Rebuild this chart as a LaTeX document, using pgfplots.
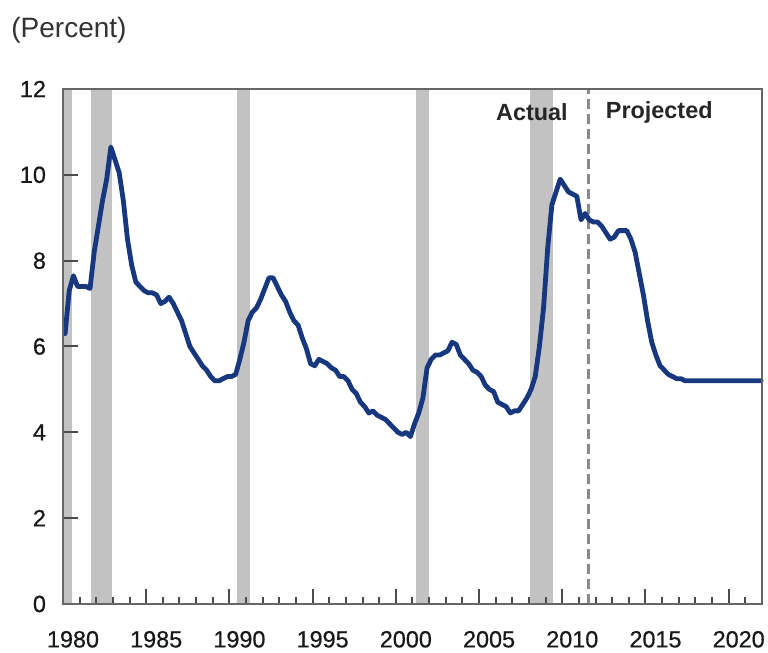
\documentclass[border=0pt]{standalone}
\usepackage{fontspec}
\setmainfont{Liberation Sans}
\newfontfamily\tickfont[FakeBold=0.6]{Liberation Sans}
\usepackage{pgfplots}
\pgfplotsset{compat=1.18}
\usepackage{pgfplotstable}
\definecolor{navy}{HTML}{17377F}
\definecolor{recgray}{HTML}{C2C2C2}
\definecolor{dashgray}{HTML}{8A8A8A}

\pgfplotstableread{
x y
1980.125 6.3
1980.375 7.3
1980.625 7.65
1980.875 7.4
1981.125 7.4
1981.375 7.4
1981.625 7.35
1981.875 8.2
1982.125 8.8
1982.375 9.4
1982.625 9.9
1982.875 10.65
1983.125 10.35
1983.375 10.05
1983.625 9.4
1983.875 8.5
1984.125 7.9
1984.375 7.5
1984.625 7.4
1984.875 7.3
1985.125 7.25
1985.375 7.25
1985.625 7.2
1985.875 7.0
1986.125 7.05
1986.375 7.15
1986.625 7.0
1986.875 6.8
1987.125 6.6
1987.375 6.3
1987.625 6.0
1987.875 5.85
1988.125 5.7
1988.375 5.55
1988.625 5.45
1988.875 5.3
1989.125 5.2
1989.375 5.2
1989.625 5.25
1989.875 5.3
1990.125 5.3
1990.375 5.35
1990.625 5.7
1990.875 6.1
1991.125 6.6
1991.375 6.8
1991.625 6.9
1991.875 7.1
1992.125 7.35
1992.375 7.6
1992.625 7.6
1992.875 7.4
1993.125 7.2
1993.375 7.05
1993.625 6.8
1993.875 6.6
1994.125 6.5
1994.375 6.2
1994.625 5.95
1994.875 5.6
1995.125 5.55
1995.375 5.7
1995.625 5.65
1995.875 5.6
1996.125 5.5
1996.375 5.45
1996.625 5.3
1996.875 5.3
1997.125 5.2
1997.375 5.0
1997.625 4.9
1997.875 4.7
1998.125 4.6
1998.375 4.45
1998.625 4.5
1998.875 4.4
1999.125 4.35
1999.375 4.3
1999.625 4.2
1999.875 4.1
2000.125 4.0
2000.375 3.95
2000.625 4.0
2000.875 3.9
2001.125 4.2
2001.375 4.45
2001.625 4.8
2001.875 5.5
2002.125 5.7
2002.375 5.8
2002.625 5.8
2002.875 5.85
2003.125 5.9
2003.375 6.1
2003.625 6.05
2003.875 5.8
2004.125 5.7
2004.375 5.6
2004.625 5.45
2004.875 5.4
2005.125 5.3
2005.375 5.1
2005.625 5.0
2005.875 4.95
2006.125 4.7
2006.375 4.65
2006.625 4.6
2006.875 4.45
2007.125 4.5
2007.375 4.5
2007.625 4.65
2007.875 4.8
2008.125 5.0
2008.375 5.3
2008.625 6.0
2008.875 6.9
2009.125 8.3
2009.375 9.3
2009.625 9.6
2009.875 9.9
2010.125 9.75
2010.375 9.6
2010.625 9.55
2010.875 9.5
2011.125 8.95
2011.375 9.1
2011.625 8.95
2011.875 8.9
2012.125 8.9
2012.375 8.8
2012.625 8.65
2012.875 8.5
2013.125 8.55
2013.375 8.7
2013.625 8.7
2013.875 8.7
2014.125 8.5
2014.375 8.2
2014.625 7.7
2014.875 7.2
2015.125 6.6
2015.375 6.1
2015.625 5.8
2015.875 5.55
2016.125 5.45
2016.375 5.35
2016.625 5.3
2016.875 5.25
2017.125 5.25
2017.375 5.2
2018.375 5.2
2019.375 5.2
2020.375 5.2
2021.375 5.2
2021.95 5.2
}\unemp

\begin{document}
\begin{tikzpicture}
\path[use as bounding box] (0,0) rectangle (384pt,326.5pt);
\node[anchor=west, inner sep=0, text=black!80, font=\fontsize{14pt}{16pt}\selectfont] at (5.5pt,311.5pt) {(Percent)};
\begin{axis}[
  at={(31.5pt,24.5pt)}, anchor=south west,
  width=349.5pt, height=257.5pt, scale only axis,
  xmin=1980, xmax=2022, ymin=0, ymax=12,
  xtick={1980,1985,...,2020},
  minor xtick={1980,...,2022},
  ytick={0,2,...,12},
  xticklabels={1980,1985,1990,1995,2000,2005,2010,2015,2020},
  /pgf/number format/assume math mode=true,
  yticklabel={\pgfmathprintnumber[assume math mode=true]{\tick}},
  tick align=inside,
  xtick pos=bottom, ytick pos=left,
  major tick length=7.5pt, minor tick length=3.5pt,
  tick style={black!70, line width=1pt},
  axis line style={draw=black!60, line width=1.2pt},
  ticklabel style={font=\tickfont\fontsize{11.7pt}{14pt}\selectfont, text=black!90},
  xticklabel style={xshift=5pt, yshift=-10pt},
  yticklabel style={xshift=-5pt},
  axis on top,
  clip=false,
]
% recession bars
\addplot[fill=recgray, draw=none] coordinates {(1980,12) (1980.52,12)} \closedcycle;
\addplot[fill=recgray, draw=none] coordinates {(1981.7,12) (1982.92,12)} \closedcycle;
\addplot[fill=recgray, draw=none] coordinates {(1990.43,12) (1991.23,12)} \closedcycle;
\addplot[fill=recgray, draw=none] coordinates {(2001.21,12) (2002.0,12)} \closedcycle;
\addplot[fill=recgray, draw=none] coordinates {(2008.05,12) (2009.46,12)} \closedcycle;
% actual / projected divider
\addplot[dashgray, line width=1.5pt, dash pattern=on 5pt off 2.5pt] coordinates {(2011.55,0) (2011.55,12)};
% unemployment rate
\addplot[navy, line width=2.4pt, line join=round, line cap=round] table[x=x, y=y] {\unemp};
\node[anchor=east, inner sep=0, font=\bfseries\fontsize{11.7pt}{14pt}\selectfont, text=black!85] at (axis cs:2010.35,11.45) {Actual};
\node[anchor=west, inner sep=0, font=\bfseries\fontsize{11.7pt}{14pt}\selectfont, text=black!85] at (axis cs:2012.6,11.45) {Projected};
\end{axis}
\end{tikzpicture}
\end{document}
